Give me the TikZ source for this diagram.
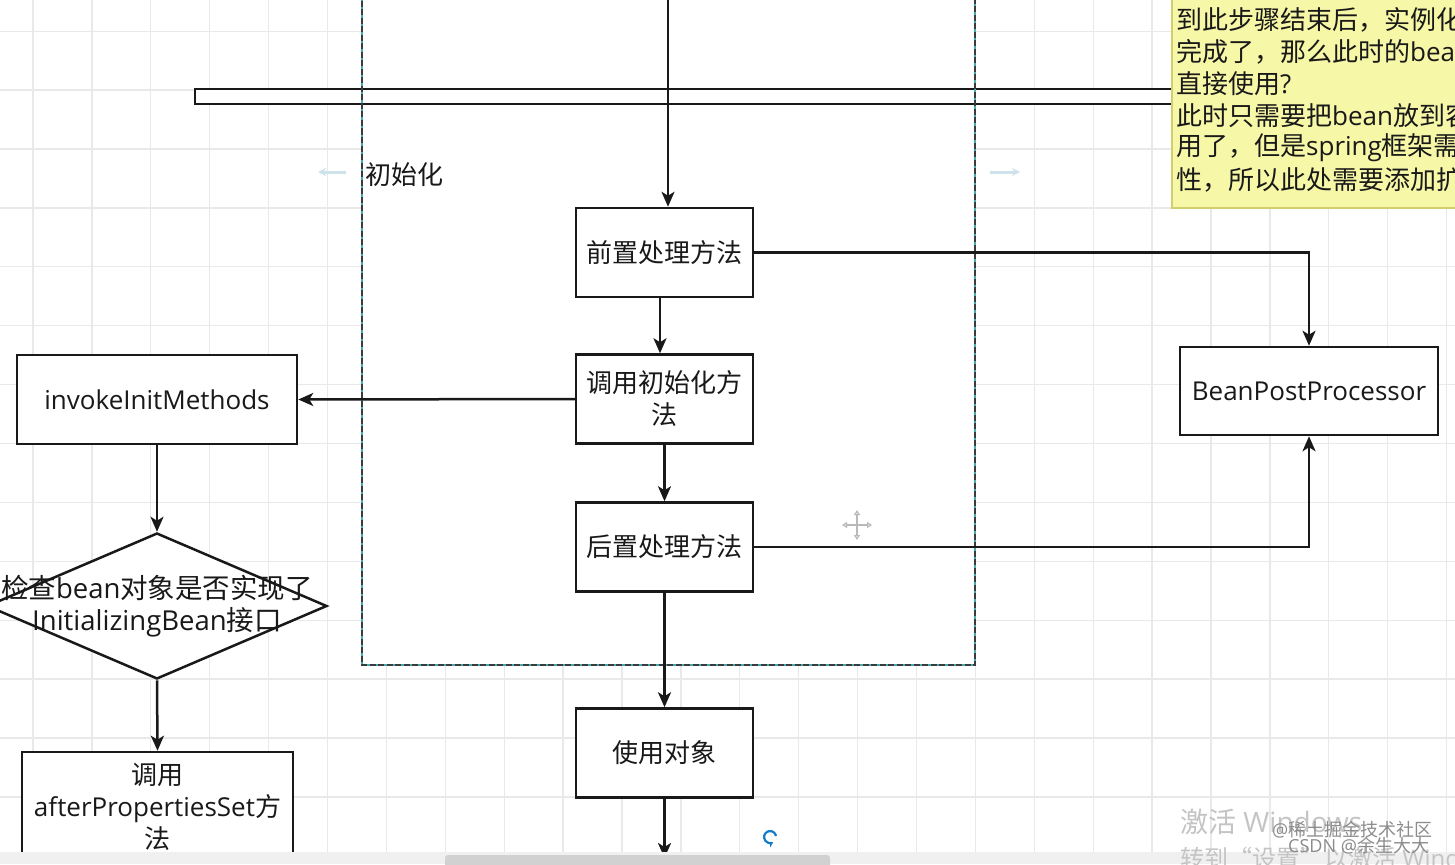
\documentclass[tikz,border=0pt]{standalone}
\usepackage{fontspec}
\setmainfont{Open Sans}
\newfontfamily\cjk{Noto Sans CJK SC}
\newcommand\zh[1]{{\cjk #1}}
\newcommand\fs{\fontsize{26}{32}\selectfont}
\usetikzlibrary{arrows.meta,shapes.geometric,calc}
\definecolor{gridc}{RGB}{233,233,233}
\definecolor{ink}{RGB}{25,25,25}
\definecolor{teal2}{RGB}{70,170,180}
\definecolor{notefill}{RGB}{247,247,168}
\definecolor{notedraw}{RGB}{210,206,110}
\definecolor{hover}{RGB}{205,226,234}
\definecolor{wm}{RGB}{196,196,196}
\begin{document}
\begin{tikzpicture}[x=1pt,y=-1pt,
  box/.style={draw=ink, line width=2.5pt, fill=white, minimum width=177pt, minimum height=89pt, inner sep=0pt, align=center, font=\fs, text=ink},
  conn/.style={draw=ink, line width=2.5pt, -{Stealth[length=15pt,width=13pt,inset=4pt]}},
  txt/.style={font=\fs, text=ink, inner sep=0pt}]
\useasboundingbox (0,0) rectangle (1455,864);
\clip (0,0) rectangle (1455,864);
\fill[white] (0,0) rectangle (1455,864);
% grid
\foreach \i in {0,...,24} \draw[gridc, line width=1.3pt] ({33+58.9*\i},0) -- ++(0,864);
\foreach \i in {-1,...,14} \draw[gridc, line width=1.3pt] (0,{31.2+58.9*\i}) -- ++(1455,0);
% container fill
\fill[white] (362,-10) rectangle (975,665);
% long bar
\draw[ink, line width=2.5pt, fill=white] (195,89) rectangle (1200,104);
% container border
\draw[ink!85, line width=2.2pt] (362,-10) -- (362,665) -- (975,665) -- (975,-10);
\draw[teal2, line width=1.8pt, dash pattern=on 2.5pt off 6pt] (362,-10) -- (362,665) -- (975,665) -- (975,-10);
\node[txt, anchor=west] (lbl) at (365,175) {\zh{初始化}};
% hover arrows (faint)
\draw[hover, line width=3pt, -{Stealth[length=8pt,width=8pt]}] (346,172) -- (318,172);
\draw[hover, line width=3pt, -{Stealth[length=8pt,width=8pt]}] (990,172) -- (1020,172);
% nodes
\node[box] (qz) at (664.5,252.5) {\zh{前置处理方法}};
\node[box] (dy) at (664.5,399) {\zh{调用初始化方}\\\zh{法}};
\node[box] (hz) at (664.5,547) {\zh{后置处理方法}};
\node[box] (sy) at (664.5,753) {\zh{使用对象}};
\node[box, minimum width=258pt, minimum height=88pt] (bpp) at (1309,391) {BeanPostProcessor};
\node[box, minimum width=280pt] (inv) at (157,399.5) {invokeInitMethods};
\node[draw=ink, line width=2.5pt, fill=white, diamond, minimum width=340pt, minimum height=146pt, inner sep=0pt] (dia) at (157,606) {};
\node[txt, align=center, font=\fontsize{27.5}{32}\selectfont] (diat) at (dia.center) {\zh{检查}bean\zh{对象是否实现了}\\InitializingBean\zh{接口}};
\node[box, minimum width=271pt, minimum height=110pt] (aps) at (157.5,807) {\zh{调用}\\afterPropertiesSet\zh{方}\\\zh{法}};
% connectors
\coordinate (tin) at (668,-5);
\coordinate (send) at (664.5,858);
\draw[conn] (tin) -- (tin |- qz.north);
\draw[conn] ([xshift=-4.5pt]qz.south) -- ([xshift=-4.5pt]dy.north);
\draw[conn] (dy.south) -- (hz.north);
\draw[conn] (hz.south) -- (sy.north);
\draw[conn] (sy.south) -- (send);
\draw[conn] (qz.east) -| (bpp.north);
\draw[conn] (hz.east) -| (bpp.south);
\draw[conn] (dy.west) -- (inv.east);
\draw[conn] (inv.south) -- (dia.north);
\draw[conn] (dia.south) -- (aps.north);
% note
\draw[notedraw, line width=1.5pt, fill=notefill] (1172,-10) rectangle (1470,208);
\node[txt, anchor=west] (n1) at (1176,20) {\zh{到此步骤结束后，实例化}};
\node[txt, anchor=west] (n2) at (1176,52) {\zh{完成了，那么此时的}bean};
\node[txt, anchor=west] (n3) at (1176,84) {\zh{直接使用}?};
\node[txt, anchor=west] (n4) at (1176,116) {\zh{此时只需要把}bean\zh{放到容}};
\node[txt, anchor=west] (n5) at (1176,148) {\zh{用了，但是}spring\zh{框架需}};
\node[txt, anchor=west] (n6) at (1176,180) {\zh{性，所以此处需要添加扩}};
% cursor icon
\draw[gray!55, line width=1.2pt, {Triangle[open,length=5pt,width=6pt]}-{Triangle[open,length=5pt,width=6pt]}] (842,525) -- (872,525);
\draw[gray!55, line width=1.2pt, {Triangle[open,length=5pt,width=6pt]}-{Triangle[open,length=5pt,width=6pt]}] (857,510) -- (857,540);
% refresh icon
\draw[cyan!60!blue, line width=2.2pt, -{Stealth[length=5pt,width=6pt]}] (776,836) arc[start angle=10, end angle=300, radius=6pt];
% bottom band and scrollbar
\fill[black!6] (0,852) rectangle (1455,864);
\fill[black!18, rounded corners=3pt] (445,855) rectangle (830,868);
% watermarks
\node[anchor=west, text=wm, font=\fontsize{28}{30}\selectfont, inner sep=0pt] (w1) at (1180,822) {\zh{激活} Windows};
\node[anchor=west, text=wm, font=\fontsize{24}{26}\selectfont, inner sep=0pt] (w2) at (1180,858) {\zh{转到“设置”以激活} Windows\zh{。}};
\node[anchor=west, text=black!45, font=\fontsize{18}{20}\selectfont, inner sep=0pt] (w3) at (1272,830) {@\zh{稀土掘金技术社区}};
\node[anchor=west, text=black!45, font=\fontsize{18}{20}\selectfont, inner sep=0pt] (w4) at (1288,846) {CSDN @\zh{余生大大}};
\end{tikzpicture}
\end{document}
